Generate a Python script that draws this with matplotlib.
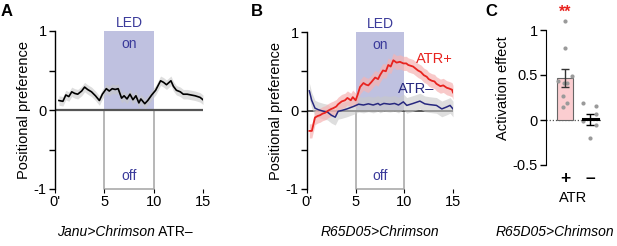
import matplotlib
matplotlib.use("Agg")
import matplotlib.pyplot as plt
from matplotlib.patches import Rectangle
import numpy as np

plt.rcParams["font.family"] = ["Liberation Sans", "DejaVu Sans"]

# ── data ─────────────────────────────────────────────────────
# A: Janu>Chrimson ATR-  (time in min, positional preference)
time_a = [0.4, 0.8, 1.1, 1.4, 1.7, 2.0, 2.3, 2.7, 3.0, 3.3, 3.7, 4.1, 4.5, 4.8,
          5.2, 5.5, 5.8, 6.1, 6.4, 6.75, 7.0, 7.3, 7.6, 7.9, 8.2, 8.5, 8.7, 9.1,
          9.4, 9.8, 10.2, 10.7, 11.0, 11.3, 11.75, 12.0, 12.3, 12.7, 13.0, 13.4,
          13.8, 14.2, 14.7, 15.0]
pref_a = [0.12, 0.11, 0.19, 0.17, 0.23, 0.21, 0.20, 0.24, 0.29, 0.26, 0.23, 0.18,
          0.12, 0.20, 0.27, 0.24, 0.27, 0.26, 0.27, 0.15, 0.18, 0.14, 0.20, 0.13,
          0.18, 0.09, 0.14, 0.08, 0.12, 0.19, 0.25, 0.37, 0.35, 0.32, 0.37, 0.30,
          0.25, 0.23, 0.20, 0.20, 0.19, 0.18, 0.16, 0.13]
sem_a = 0.06

# B: R65D05>Chrimson, ATR+ and ATR-
time_pos = [0.24, 0.5, 0.82, 1.1, 1.34, 1.6, 1.85, 2.2, 2.5, 2.7, 3.0, 3.2, 3.56,
            3.9, 4.15, 4.5, 4.7, 5.0, 5.2, 5.45, 5.8, 6.05, 6.3, 6.6, 7.0, 7.3,
            7.5, 7.8, 8.1, 8.35, 8.6, 8.87, 9.2, 9.55, 9.9, 10.2, 10.4, 10.9,
            11.4, 11.7, 12.0, 12.3, 12.5, 12.8, 13.1, 13.3, 13.7, 14.0, 14.35,
            14.6, 14.9, 15.0]
pref_pos = [-0.26, -0.26, -0.09, -0.07, -0.06, -0.04, -0.03, 0.0, 0.02, 0.03,
            0.05, 0.08, 0.115, 0.13, 0.16, 0.13, 0.17, 0.13, 0.2, 0.3, 0.35,
            0.33, 0.32, 0.36, 0.42, 0.40, 0.45, 0.51, 0.50, 0.58, 0.56, 0.64,
            0.61, 0.62, 0.60, 0.60, 0.58, 0.56, 0.51, 0.49, 0.45, 0.43, 0.40,
            0.38, 0.37, 0.34, 0.31, 0.32, 0.29, 0.28, 0.265, 0.23]
sem_pos = 0.09

time_neg = [0.24, 0.48, 0.82, 1.16, 1.7, 2.1, 2.5, 2.9, 3.2, 3.56, 4.1, 4.75, 5.3,
            5.8, 6.3, 6.8, 7.3, 7.5, 7.9, 8.5, 9.0, 9.4, 9.9, 10.25, 10.9, 11.6,
            12.1, 12.6, 13.3, 13.85, 14.35, 14.7, 15.0]
pref_neg = [0.25, 0.13, 0.03, 0.01, -0.01, -0.02, -0.06, -0.085, -0.01, 0.0,
            0.02, 0.05, 0.08, 0.07, 0.085, 0.07, 0.09, 0.07, 0.09, 0.08, 0.09,
            0.07, 0.11, 0.065, 0.09, 0.12, 0.085, 0.075, 0.065, 0.02, 0.045,
            0.065, 0.02]
sem_neg = 0.1

# C: activation effect per fly
effect_pos = [1.1, 0.8, 0.49, 0.43, 0.41, 0.41, 0.27, 0.19, 0.15]
effect_neg = [0.185, 0.16, 0.07, -0.01, -0.06, -0.2]
effect_mean = [0.47, 0.01]
effect_sem = [0.10, 0.06]
atr_labels = ["+", "\u2013"]

time_ticks = [0, 5, 10, 15]
time_labels = ["0'", "5", "10", "15"]
led_on, led_off = 5, 10

# ── style ────────────────────────────────────────────────────
W, H = 617, 246
RED = "#e8231f"
PINK = "#f6b3b3"
NAVY = "#27287f"
LED = "#bfc1e0"
LEDTXT = "#3a3a9a"
FS = 10.5
CAP = 10


def px_axes(x0, x1, y_top, y_bot):
    return fig.add_axes([x0 / W, 1 - y_bot / H, (x1 - x0) / W, (y_bot - y_top) / H])


def time_panel(ax):
    ax.set_xlim(0, 15)
    ax.set_ylim(-1, 1)
    ax.add_patch(Rectangle((led_on, 0), led_off - led_on, 1, color=LED, lw=0, zorder=0))
    ax.plot([led_on, led_on, led_off, led_off], [0, -1, -1, 0], color="#aaaaaa",
            lw=1.2, zorder=1, clip_on=False)
    ax.text(7.5, 1.1, "LED", color=LEDTXT, ha="center", va="center", fontsize=FS - 0.5,
            clip_on=False)
    ax.text(7.5, 0.84, "on", color=LEDTXT, ha="center", va="center", fontsize=FS - 0.5)
    ax.text(7.5, -0.84, "off", color=LEDTXT, ha="center", va="center", fontsize=FS - 0.5)
    for s in ["top", "right", "bottom"]:
        ax.spines[s].set_visible(False)
    ax.spines["left"].set_linewidth(1.0)
    ax.set_yticks([-1, -0.5, 0, 0.5, 1])
    ax.set_yticklabels(["-1", "", "0", "", "1"])
    ax.set_xticks(time_ticks)
    ax.set_xticklabels(time_labels)
    ax.tick_params(axis="both", labelsize=FS, length=4, width=1.0, pad=2)
    ax.tick_params(axis="x", length=3, pad=1, width=0.8)
    ax.set_ylabel("Positional preference", fontsize=FS, labelpad=2)


fig = plt.figure(figsize=(W / 100, H / 100), dpi=100)

# ── A ────────────────────────────────────────────────────────
axA = px_axes(55, 203, 31, 189)
time_panel(axA)
axA.plot([0, 15], [0, 0], color="#555555", lw=1.6, zorder=2)
axA.fill_between(time_a, np.array(pref_a) - sem_a, np.array(pref_a) + sem_a,
                 color="#c8c8c8", alpha=0.6, lw=0, zorder=3)
axA.plot(time_a, pref_a, color="black", lw=1.2, zorder=4)

# ── B ────────────────────────────────────────────────────────
axB = px_axes(307, 453, 32, 189)
time_panel(axB)
axB.plot([0, 15], [0, 0], color="#555555", lw=1.4, zorder=2)
axB.fill_between(time_neg, np.array(pref_neg) - sem_neg, np.array(pref_neg) + sem_neg,
                 color="#c8c8c8", alpha=0.6, lw=0, zorder=3)
axB.fill_between(time_pos, np.array(pref_pos) - sem_pos, np.array(pref_pos) + sem_pos,
                 color=PINK, alpha=0.7, lw=0, zorder=3)
axB.plot(time_neg, pref_neg, color=NAVY, lw=1.1, zorder=4)
axB.plot(time_pos, pref_pos, color=RED, lw=1.3, zorder=5)
axB.text(11.2, 0.65, "ATR+", color=RED, fontsize=FS, va="center", ha="left")
axB.text(9.3, 0.27, "ATR\u2013", color=NAVY, fontsize=FS, va="center", ha="left")

# ── C ────────────────────────────────────────────────────────
axC = px_axes(546, 601, 12, 165)
axC.set_xlim(-0.76, 1.44)
axC.set_ylim(-0.5, 1.2)
axC.axhline(0, color="#555555", lw=0.9, ls=(0, (1, 1.5)), zorder=1)
axC.bar([0], [effect_mean[0]], width=0.66, color="#fbcdd0", edgecolor="#666666",
        lw=0.8, zorder=2)
axC.errorbar([0], [effect_mean[0]], yerr=[effect_sem[0]], color="#333333", lw=1.0,
             capsize=3, capthick=1.0, zorder=4)
axC.plot([0.7, 1.3], [effect_mean[1], effect_mean[1]], color="black", lw=2.2, zorder=4)
axC.errorbar([1], [effect_mean[1]], yerr=[effect_sem[1]], color="black", lw=1.0,
             capsize=3, capthick=1.0, zorder=4)
jit_pos = [0, 0, 0.27, -0.27, -0.04, 0.09, -0.09, 0.09, -0.09]
jit_neg = [-0.27, 0.24, 0.24, -0.27, 0.24, 0]
axC.scatter(np.array(jit_pos), effect_pos, s=9, color="#9a9a9a", lw=0, zorder=3)
axC.scatter(1 + np.array(jit_neg), effect_neg, s=9, color="#9a9a9a", lw=0, zorder=3)
axC.text(0, 1.2, "**", color=RED, fontsize=FS + 1, ha="center", va="center",
         fontweight="bold", clip_on=False)
for s in ["top", "right", "bottom"]:
    axC.spines[s].set_visible(False)
axC.spines["left"].set_bounds(-0.5, 1)
axC.set_yticks([-0.5, 0, 0.5, 1])
axC.set_yticklabels(["-0.5", "0", "0.5", "1"])
axC.set_xticks([0, 1])
axC.set_xticklabels(atr_labels, fontweight="bold", fontsize=FS + 2)
axC.tick_params(axis="y", labelsize=FS, length=4, width=1.0, pad=2)
axC.tick_params(axis="x", length=0, pad=4)
axC.set_xlabel("ATR", fontsize=FS, labelpad=4)
axC.set_ylabel("Activation effect", fontsize=FS, labelpad=2)

# ── panel letters and genotype captions ─────────────────────
for x, letter in [(1, "A"), (251, "B"), (485, "C")]:
    fig.text(x / W, 1 - 4 / H, letter, fontsize=12, fontweight="bold", va="top")

t1 = fig.text(57 / W, 1 - 232 / H, "Janu>Chrimson", fontsize=CAP, style="italic",
              va="center")
axA.annotate(" ATR\u2013", xy=(1, 0.5), xycoords=t1, fontsize=CAP, va="center",
             ha="left", annotation_clip=False)
fig.text(380 / W, 1 - 232 / H, "R65D05>Chrimson", fontsize=CAP, style="italic",
         ha="center", va="center")
fig.text(614 / W, 1 - 232 / H, "R65D05>Chrimson", fontsize=CAP, style="italic",
         ha="right", va="center")

fig.savefig("out.png", dpi=100)
